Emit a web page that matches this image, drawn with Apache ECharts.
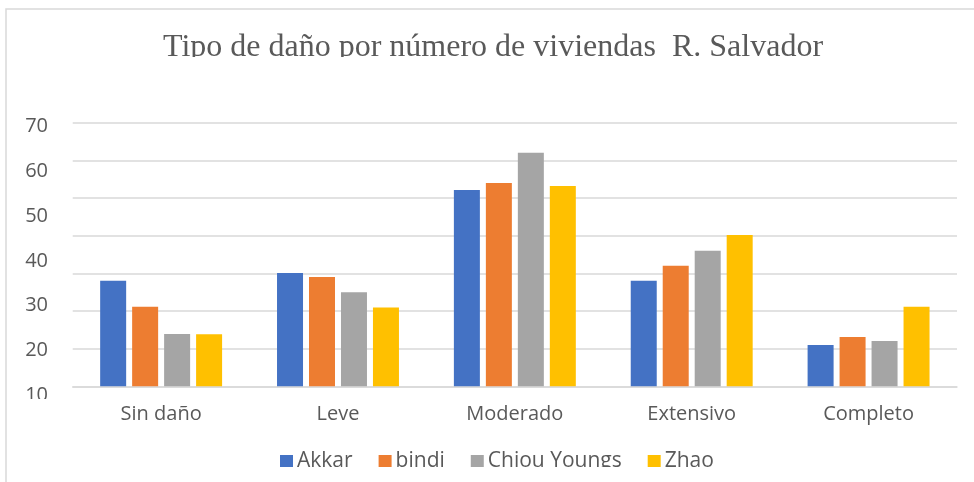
<!DOCTYPE html>
<html lang="es">
<head>
    <meta charset="UTF-8">
    <title>Tipo de daño</title>
    <script src="https://cdn.jsdelivr.net/npm/echarts@6/dist/echarts.min.js"></script>
    <style>
        body { margin: 0; background: #fff; }
        #main { width: 974px; height: 482px; }
    </style>
</head>
<body>
    <div id="main"></div>
    <script>
        // categorias y series
        var categorias = ['Sin daño', 'Leve', 'Moderado', 'Extensivo', 'Completo'];
        var akkar = [28, 30.1, 52.1, 28, 11];
        var bindi = [21.1, 29, 54, 32, 13.1];
        var chiou = [13.9, 25, 62, 36, 12];
        var zhao = [13.8, 20.9, 53.2, 40.2, 21.1];
        // etiquetas del eje y (tal como aparecen, con otro espaciado)
        var etiquetasY = [10, 20, 30, 40, 50, 60, 70];

        var gris = '#595959';
        var colores = ['#4472C4', '#ED7D31', '#A5A5A5', '#FFC000'];

        function serie(nombre, datos) {
            return {
                name: nombre,
                type: 'bar',
                xAxisIndex: 0,
                yAxisIndex: 0,
                barWidth: 26,
                barGap: '23%',
                data: datos
            };
        }

        var myChart = echarts.init(document.getElementById('main'));
        myChart.setOption({
            animation: false,
            color: colores,
            title: {
                text: 'Tipo de daño por número de viviendas  R. Salvador',
                left: 488,
                top: 27,
                textAlign: 'center',
                textStyle: {
                    fontFamily: 'Liberation Serif',
                    fontWeight: 'normal',
                    fontSize: 32,
                    color: gris
                }
            },
            legend: {
                left: 275,
                top: 446,
                itemWidth: 13,
                itemHeight: 13,
                itemGap: 26,
                icon: 'rect',
                textStyle: { fontFamily: 'Open Sans', fontSize: 21, color: gris, padding: [0, 0, 0, -1] },
                data: ['Akkar', 'bindi', 'Chiou Youngs', 'Zhao']
            },
            grid: [
                { left: 72.7, right: 17, top: 122.7, bottom: 95.7 },
                { left: 72, right: 17, top: 126.7, bottom: 87 }
            ],
            xAxis: [
                {
                    type: 'category',
                    gridIndex: 0,
                    data: categorias,
                    axisLine: { lineStyle: { color: '#D9D9D9', width: 1.5 } },
                    axisTick: { show: false },
                    axisLabel: { fontFamily: 'Open Sans', fontSize: 20, color: gris, margin: 16, lineHeight: 24 }
                },
                {
                    type: 'category',
                    gridIndex: 1,
                    data: categorias,
                    show: false
                }
            ],
            yAxis: [
                {
                    type: 'value',
                    gridIndex: 0,
                    min: 0,
                    max: 70,
                    interval: 10,
                    axisLabel: { show: false },
                    axisLine: { show: false },
                    axisTick: { show: false },
                    splitLine: { lineStyle: { color: '#D9D9D9', width: 1.5 } }
                },
                {
                    type: 'value',
                    gridIndex: 1,
                    min: etiquetasY[0],
                    max: etiquetasY[etiquetasY.length - 1],
                    interval: 10,
                    axisLine: { show: false },
                    axisTick: { show: false },
                    splitLine: { show: false },
                    axisLabel: { fontFamily: 'Open Sans', fontSize: 20, color: gris, margin: 24 }
                }
            ],
            graphic: [
                // marco del grafico
                { type: 'rect', z: -1, shape: { x: 6, y: 9, width: 1000, height: 500 },
                  style: { fill: '#fff', stroke: '#D9D9D9', lineWidth: 1.5 } },
                // recortes como en la imagen original
                { type: 'rect', z: 100, shape: { x: 20, y: 399, width: 40, height: 10 },
                  style: { fill: '#fff' } },
                { type: 'rect', z: 100, shape: { x: 140, y: 57, width: 720, height: 12 },
                  style: { fill: '#fff' } },
                { type: 'rect', z: 100, shape: { x: 260, y: 467, width: 490, height: 15 },
                  style: { fill: '#fff' } }
            ],
            series: [
                serie('Akkar', akkar),
                serie('bindi', bindi),
                serie('Chiou Youngs', chiou),
                serie('Zhao', zhao)
            ]
        });
    </script>
</body>
</html>
